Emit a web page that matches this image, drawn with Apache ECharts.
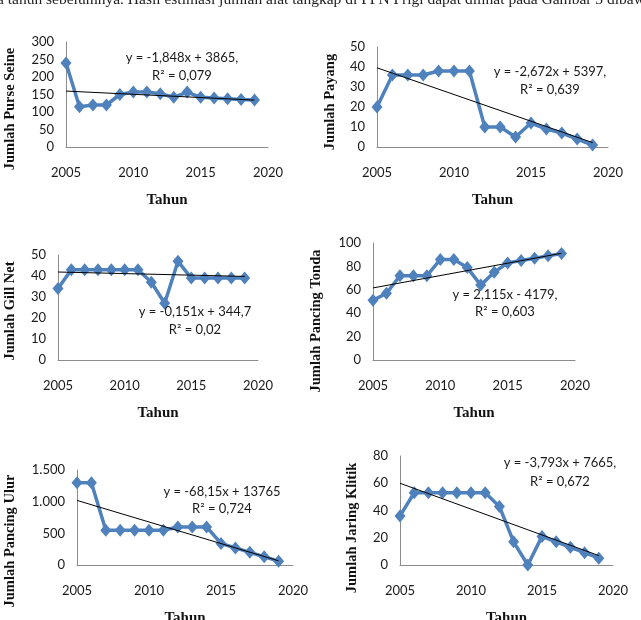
<!DOCTYPE html>
<html>
<head>
<meta charset="utf-8">
<script src="https://cdn.jsdelivr.net/npm/echarts@6/dist/echarts.min.js"></script>
<style>html,body{margin:0;padding:0;background:#fff;}#c{width:641px;height:620px;}</style>
</head>
<body>
<div id="c"></div>
<script>
const years = [2005,2006,2007,2008,2009,2010,2011,2012,2013,2014,2015,2016,2017,2018,2019];
const purseSeine = [240,115,120,120,150,157,157,152,142,157,142,140,138,136,134];
const payang = [20,36,36,36,38,38,38,10,10,5,12,9,7,4,1];
const gillNet = [34,43,43,43,43,43,43,37,27,47,39,39,39,39,39];
const pancingTonda = [51,57,72,72,72,86,86,79,64,75,83,85,87,89,91];
const pancingUlur = [1300,1300,550,550,550,550,550,600,600,600,340,270,200,130,60];
const jaringKlitik = [36,53,53,53,53,53,53,43,17,0,21,17,13,9,5];
const trendStart = [159.8, 39.6, 41.9, 61.6, 1020, 60.0];
const trendEnd = [133.9, 2.2, 39.8, 91.2, 66, 6.9];
const trendYears = [2005, 2019];
const yTitles = ['Jumlah Purse Seine','Jumlah Payang','Jumlah Gill Net','Jumlah Pancing Tonda','Jumlah Pancing Ulur','Jumlah Jaring Klitik'];
const eqLines = [
  ['y = -1,848x + 3865,', 'R² = 0,079'],
  ['y = -2,672x + 5397,', 'R² = 0,639'],
  ['y = -0,151x + 344,7', 'R² = 0,02'],
  ['y = 2,115x - 4179,', 'R² = 0,603'],
  ['y = -68,15x + 13765', 'R² = 0,724'],
  ['y = -3,793x + 7665,', 'R² = 0,672']
];
const yMax = [300, 50, 50, 100, 1500, 80];
const yInterval = [50, 10, 10, 20, 500, 20];
const xTitle = 'Tahun';
const topText = 'a tahun sebelumnya. Hasil estimasi jumlah alat tangkap di PPN Prigi dapat dilihat pada Gambar 3 dibawah';

const seriesData = [purseSeine, payang, gillNet, pancingTonda, pancingUlur, jaringKlitik];

// layout
const grids = [
  {left:66, top:42, width:202, height:105},
  {left:377, top:47, width:231, height:100},
  {left:58, top:255, width:200, height:105},
  {left:373, top:243, width:202, height:117},
  {left:77, top:470, width:216, height:95},
  {left:400, top:456, width:213, height:109}
].map(g => Object.assign(g, {outerBoundsMode:'none', containLabel:false}));
const yTitlePos = [[10,109],[330,102],[10,311],[316,321],[10,541],[352,528]];
const eqPos = [[182,58,76],[550,72,90],[195,312,330],[505,295,312],[222,492,509],[560,463,482]];

const sansFont = 'Lato';
const serifFont = 'Liberation Serif';
const blue = '#4F81BD';

const xAxes = [], yAxes = [], series = [], graphics = [];
grids.forEach((g, i) => {
  xAxes.push({
    type:'value', gridIndex:i, min:2005, max:2020, interval:5,
    axisLine:{show:true, lineStyle:{color:'#8c8c8c', width:1}},
    axisTick:{show:false}, splitLine:{show:false},
    axisLabel:{color:'#1a1a1a', fontFamily:sansFont, fontSize:13, margin:19, showMinLabel:true, showMaxLabel:true,
      formatter: v => String(v)},
    name:xTitle, nameLocation:'middle', nameGap:46,
    nameTextStyle:{fontFamily:serifFont, fontWeight:'bold', fontSize:15, color:'#111'}
  });
  yAxes.push({
    type:'value', gridIndex:i, min:0, max:yMax[i], interval:yInterval[i],
    axisLine:{show:true, lineStyle:{color:'#8c8c8c', width:1}},
    axisTick:{show:false}, splitLine:{show:false},
    axisLabel:{color:'#1a1a1a', fontFamily:sansFont, fontSize:13, margin:12,
      formatter: v => String(v).replace(/\B(?=(\d{3})+(?!\d))/g, '.')}
  });
  series.push({
    type:'line', xAxisIndex:i, yAxisIndex:i,
    data: years.map((y, k) => [y, seriesData[i][k]]),
    symbol:'diamond', symbolSize:[11,13],
    lineStyle:{color:blue, width:3.5}, itemStyle:{color:blue},
    z:2, animation:false
  });
  series.push({
    type:'line', xAxisIndex:i, yAxisIndex:i,
    data: [[trendYears[0], trendStart[i]], [trendYears[1], trendEnd[i]]],
    symbol:'none', lineStyle:{color:'#000', width:1},
    z:3, animation:false
  });
  graphics.push({
    type:'text', x:yTitlePos[i][0], y:yTitlePos[i][1], rotation:Math.PI/2,
    style:{text:yTitles[i], align:'center', verticalAlign:'middle',
      font:'bold 14.5px "' + serifFont + '"', fill:'#111'}
  });
  graphics.push({
    type:'text', x:eqPos[i][0], y:eqPos[i][1],
    style:{text:eqLines[i][0], align:'center', verticalAlign:'middle',
      font:'13px "' + sansFont + '"', fill:'#1a1a1a'}, z:10
  });
  graphics.push({
    type:'text', x:eqPos[i][0], y:eqPos[i][2],
    style:{text:eqLines[i][1], align:'center', verticalAlign:'middle',
      font:'13px "' + sansFont + '"', fill:'#1a1a1a'}, z:10
  });
});
graphics.push({
  type:'text', x:-3, y:8,
  style:{text:topText, align:'left', verticalAlign:'bottom',
    font:'15.5px "' + serifFont + '"', fill:'#222'}
});

const chart = echarts.init(document.getElementById('c'), null, {renderer:'canvas'});
chart.setOption({
  animation:false,
  grid: grids,
  xAxis: xAxes,
  yAxis: yAxes,
  series: series,
  graphic: graphics
});
</script>
</body>
</html>
